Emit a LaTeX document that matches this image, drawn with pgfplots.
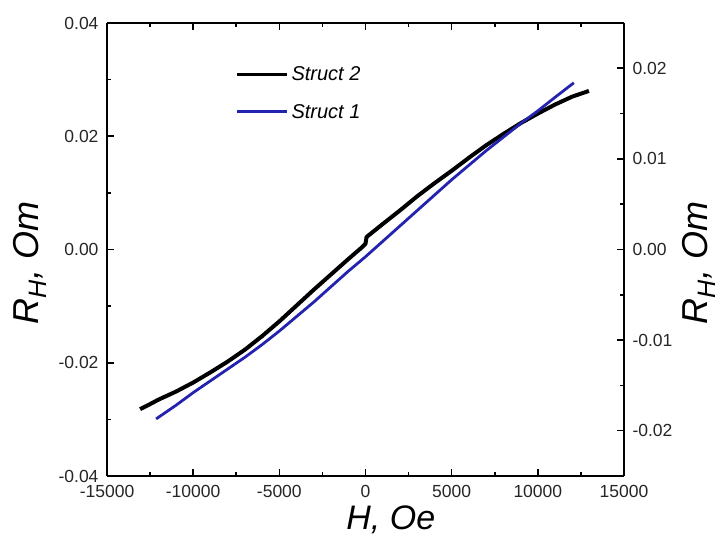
\documentclass[border=0pt]{standalone}
\usepackage{pgfplots}
\pgfplotsset{compat=1.18}
\usepackage{pgfplotstable}
\usepackage{fontspec}
\setmainfont{Liberation Sans}
\definecolor{sblue}{RGB}{35,35,175}

\pgfplotstableread{
H R
-13080 -0.0282
-12560 -0.0274
-12000 -0.0265
-11000 -0.0251
-10000 -0.0235
-9000 -0.0217
-8000 -0.0198
-7000 -0.0177
-6000 -0.0153
-5000 -0.0127
-4000 -0.0099
-3000 -0.0071
-2000 -0.0044
-1000 -0.0017
-200 0.0004
0 0.0010
60 0.0022
1000 0.0045
2000 0.0069
3000 0.0094
4000 0.0117
5000 0.0139
6000 0.0162
7000 0.0184
8000 0.0204
9000 0.0223
10000 0.0240
11000 0.0256
12000 0.0270
12965 0.0280
}\structtwo

\pgfplotstableread{
H R
-12150 -0.0187
-11000 -0.0172
-10000 -0.0158
-9000 -0.0145
-8000 -0.0132
-7000 -0.0119
-6000 -0.0105
-5000 -0.0090
-4000 -0.0074
-3000 -0.0058
-2000 -0.0041
-1000 -0.0024
0 -0.0008
1000 0.0009
2000 0.0026
3000 0.0043
4000 0.0060
5000 0.0077
6000 0.0093
7000 0.0109
8000 0.0124
9000 0.0139
10000 0.0153
11000 0.0168
12090 0.0184
}\structone

\pgfplotsset{
  common/.style={
    scale only axis, width=517pt, height=453pt,
    xmin=-15000, xmax=15000,
    tick align=inside,
    major tick length=7pt, minor tick length=4pt,
    every tick/.append style={black, line width=1.6pt},
    axis line style={line width=2.4pt},
    tick label style={font=\fontsize{17.5}{20}\selectfont, text=black!85},
    /pgf/number format/assume math mode=true,
    scaled ticks=false,
    legend image code/.code={\draw[##1] (0pt,0pt) -- (50pt,0pt);},
  }
}

\begin{document}
\begin{tikzpicture}
\begin{axis}[
  common,
  ymin=-0.04, ymax=0.04,
  axis y line*=left,
  xtick={-15000,-10000,...,15000},
  minor x tick num=1,
  ytick={-0.04,-0.02,0,0.02,0.04},
  minor y tick num=1,
  xticklabel style={/pgf/number format/1000 sep={}, yshift=-6pt},
  yticklabel style={/pgf/number format/.cd, fixed, fixed zerofill, precision=2, /tikz/xshift=-5pt},
  xlabel={\itshape H, Oe},
  xlabel style={at={(axis description cs:0.549,-0.097)}, anchor=center, font=\fontsize{34}{38}\selectfont},
  ylabel={\itshape R\textsubscript{H}, Om},
  ylabel style={at={(axis description cs:-0.149,0.47)}, anchor=center, font=\fontsize{36}{40}\selectfont},
]
\addplot[black, line width=4pt, line join=round] table[x=H, y=R] {\structtwo};
\coordinate (bl) at (rel axis cs:0,0);
\coordinate (tr) at (rel axis cs:1,1);
\end{axis}
\begin{axis}[
  common,
  ymin=-0.025, ymax=0.025,
  axis y line*=right,
  axis x line=none,
  ytick={-0.02,-0.01,0,0.01,0.02},
  minor y tick num=1,
  yticklabel style={/pgf/number format/.cd, fixed, fixed zerofill, precision=2, /tikz/xshift=5pt},
  ylabel={\itshape R\textsubscript{H}, Om},
  ylabel style={at={(axis description cs:1.145,0.47)}, anchor=center, font=\fontsize{36}{40}\selectfont},
  legend style={at={(axis description cs:0.242,0.915)}, anchor=north west, draw=none, fill=none,
    font=\fontsize{20}{24}\selectfont\itshape, row sep=16pt,
    nodes={inner sep=3pt}},
  legend cell align=left,
]
\addlegendimage{black, line width=3.2pt}
\addlegendentry{Struct 2}
\addplot[sblue, line width=2.8pt, line join=round] table[x=H, y=R] {\structone};
\addlegendentry{Struct 1}
\end{axis}
\pgfresetboundingbox
\path[use as bounding box] ([xshift=-107pt,yshift=-64pt]bl) rectangle ([xshift=99pt,yshift=23pt]tr);
\end{tikzpicture}
\end{document}
